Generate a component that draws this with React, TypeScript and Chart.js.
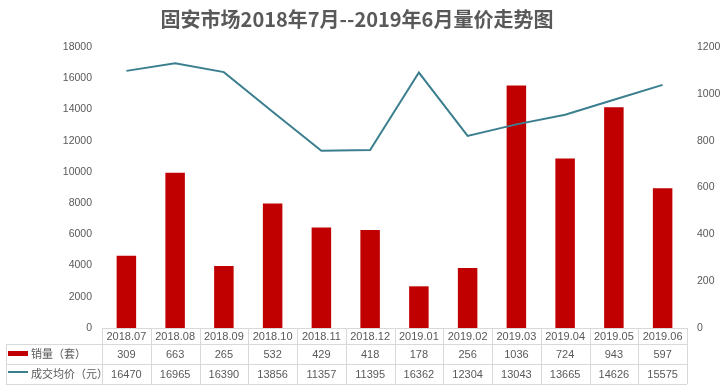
import React, { useEffect, useRef } from "react";
import { Chart, registerables } from "chart.js";

Chart.register(...registerables);

const titleText = "固安市场2018年7月--2019年6月量价走势图";
const categories = ["2018.07", "2018.08", "2018.09", "2018.10", "2018.11", "2018.12", "2019.01", "2019.02", "2019.03", "2019.04", "2019.05", "2019.06"];
const salesName = "销量（套）";
const priceName = "成交均价（元）";
const salesValues = [309, 663, 265, 532, 429, 418, 178, 256, 1036, 724, 943, 597];
const priceValues = [16470, 16965, 16390, 13856, 11357, 11395, 16362, 12304, 13043, 13665, 14626, 15575];

const BAR_COLOR = "#C00000";
const LINE_COLOR = "#3B7F8F";
const TEXT_COLOR = "#595959";
const BORDER_COLOR = "#D9D9D9";
const NUM_FONT = '"Liberation Sans", Arial, sans-serif';
const CJK_FONT = '"Noto Sans CJK SC", sans-serif';

const tablePlugin = {
  id: "tablePlugin",
  afterDraw(chart: any) {
    const ctx = chart.ctx as CanvasRenderingContext2D;
    const x = chart.scales.x;
    const area = chart.chartArea;
    const n = categories.length;
    const colW = (area.right - area.left) / n;
    const top = 328;
    const r1 = 344;
    const r2 = 364;
    const bottom = 384;
    const leftEdge = 6;

    ctx.save();
    // title
    ctx.fillStyle = TEXT_COLOR;
    ctx.font = 'bold 20px ' + CJK_FONT;
    ctx.textAlign = "center";
    ctx.textBaseline = "middle";
    ctx.fillText(titleText, 357, 19);

    // grid lines
    ctx.strokeStyle = BORDER_COLOR;
    ctx.lineWidth = 1;
    ctx.beginPath();
    ctx.moveTo(area.left, top + 0.5);
    ctx.lineTo(area.right, top + 0.5);
    for (const y of [r1, r2, bottom]) {
      ctx.moveTo(leftEdge, y + 0.5);
      ctx.lineTo(area.right, y + 0.5);
    }
    ctx.moveTo(leftEdge + 0.5, r1);
    ctx.lineTo(leftEdge + 0.5, bottom);
    for (let i = 0; i <= n; i++) {
      const xx = Math.round(area.left + i * colW) + 0.5;
      ctx.moveTo(xx, top);
      ctx.lineTo(xx, bottom);
    }
    ctx.stroke();

    // text cells
    ctx.fillStyle = TEXT_COLOR;
    ctx.textAlign = "center";
    ctx.textBaseline = "middle";
    ctx.font = '11px ' + NUM_FONT;
    for (let i = 0; i < n; i++) {
      const cx = x.getPixelForValue(i);
      ctx.fillText(categories[i], cx, (top + r1) / 2 + 1);
      ctx.fillText(String(salesValues[i]), cx, (r1 + r2) / 2 + 1);
      ctx.fillText(String(priceValues[i]), cx, (r2 + bottom) / 2 + 1);
    }

    // row headers with legend markers
    ctx.fillStyle = BAR_COLOR;
    ctx.fillRect(8, 351, 20, 5);
    ctx.strokeStyle = LINE_COLOR;
    ctx.lineWidth = 2;
    ctx.beginPath();
    ctx.moveTo(8, 372);
    ctx.lineTo(28, 372);
    ctx.stroke();

    ctx.fillStyle = TEXT_COLOR;
    ctx.textAlign = "left";
    ctx.font = '11px ' + CJK_FONT;
    ctx.fillText(salesName, 31, (r1 + r2) / 2);
    ctx.fillText(priceName, 31, (r2 + bottom) / 2);
    ctx.restore();
  },
};

export default function App() {
  const ref = useRef<HTMLCanvasElement | null>(null);

  useEffect(() => {
    if (!ref.current) return;
    const chart = new Chart(ref.current, {
      type: "bar",
      data: {
        labels: categories,
        datasets: [
          {
            type: "line",
            label: priceName,
            data: priceValues,
            yAxisID: "yLeft",
            borderColor: LINE_COLOR,
            backgroundColor: LINE_COLOR,
            borderWidth: 2,
            pointRadius: 0,
            tension: 0,
            order: 0,
          },
          {
            type: "bar",
            label: salesName,
            data: salesValues,
            yAxisID: "yRight",
            backgroundColor: BAR_COLOR,
            categoryPercentage: 1,
            barPercentage: 0.4,
            order: 1,
          },
        ],
      },
      options: {
        animation: false,
        responsive: true,
        maintainAspectRatio: false,
        layout: { padding: { top: 47, bottom: 61, left: 0, right: 0 } },
        plugins: {
          legend: { display: false },
          title: { display: false },
          tooltip: { enabled: false },
        },
        scales: {
          x: { display: false, offset: true },
          yLeft: {
            position: "left",
            min: 0,
            max: 18000,
            ticks: {
              stepSize: 2000,
              padding: 10,
              color: TEXT_COLOR,
              font: { family: NUM_FONT, size: 10.5 },
              callback: (v: any) => String(v),
            },
            grid: { display: false, drawTicks: false },
            border: { display: false },
            afterFit(scale: any) {
              scale.width = 102;
            },
          },
          yRight: {
            position: "right",
            min: 0,
            max: 1200,
            ticks: {
              stepSize: 200,
              padding: 10,
              color: TEXT_COLOR,
              font: { family: NUM_FONT, size: 10.5 },
              callback: (v: any) => String(v),
            },
            grid: { display: false, drawTicks: false },
            border: { display: false },
            afterFit(scale: any) {
              scale.width = 41;
            },
          },
        },
      } as any,
      plugins: [tablePlugin],
    });
    return () => chart.destroy();
  }, []);

  return (
    <div style={{ position: "absolute", left: 0, top: 0, width: 728, height: 389, background: "#fff" }}>
      <canvas ref={ref} />
    </div>
  );
}
